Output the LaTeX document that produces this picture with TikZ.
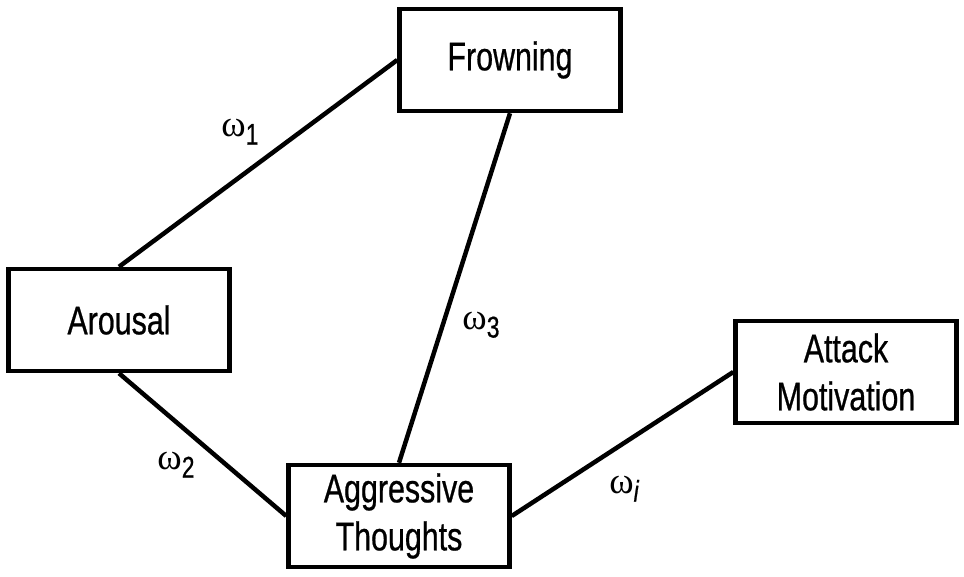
\documentclass[tikz,border=0pt]{standalone}
\usepackage{fontspec}
\setmainfont{Liberation Sans}[FakeStretch=0.76, FakeBold=0.6]
\newfontfamily\grec{Liberation Serif}
\tikzset{epais/.style={line width=4.5pt}}
\newcommand{\poids}[3]{\node[font=\fontsize{30}{30}\selectfont] (#1) at (#2)
	{{\grec\fontsize{37}{37}\selectfont\symbol{"03C9}}\raisebox{-8pt}{#3}}}

\begin{document}
\begin{tikzpicture}[x=1pt, y=-1pt,
	boite/.style={draw, epais, minimum width=221pt, minimum height=102pt,
		align=center, font=\fontsize{40}{48}\selectfont}]
\useasboundingbox (0,0) rectangle (964,576);
%The boxes
	\node[boite] (frown) at (510,60) {Frowning};
	\node[boite] (arous) at (119,320) {Arousal};
	\node[boite] (aggr) at (399,516) {Aggressive\\Thoughts};
	\node[boite] (attack) at (846,372) {Attack\\Motivation};
%The links
	\draw[epais] (arous.north) -- (frown.west);
	\draw[epais] (arous.south) -- (aggr.west);
	\draw[epais] (frown.south) -- (aggr.north);
	\draw[epais] (aggr.east) -- (attack.west);
%The weights
	\poids{w1}{240,132}{1};
	\poids{w2}{176,465}{2};
	\poids{w3}{481,325}{3};
	\poids{wi}{624,489}{\itshape i};
\end{tikzpicture}
\end{document}
